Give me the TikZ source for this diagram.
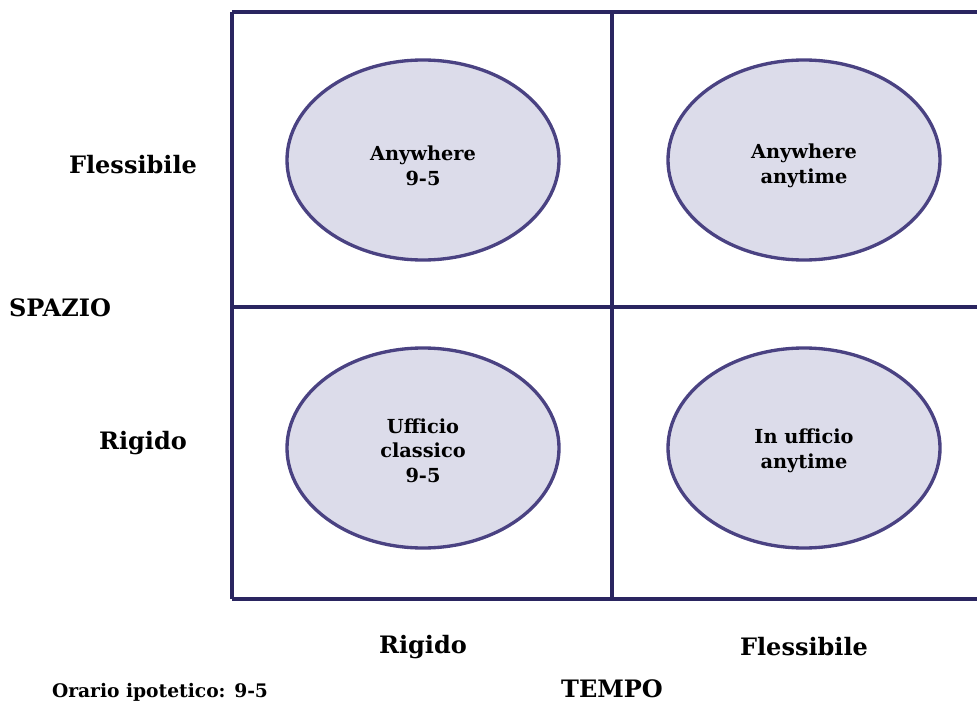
\documentclass[tikz,border=0pt]{standalone}
\usepackage{fontspec}
\setmainfont{DejaVu Serif}
\usetikzlibrary{shapes.geometric}

\definecolor{gridline}{HTML}{2A2560}
\definecolor{ovalline}{HTML}{4A4282}
\definecolor{ovalfill}{HTML}{DCDCEA}

\tikzset{
  oval/.style={ellipse, draw=ovalline, line width=2.5pt, fill=ovalfill,
    minimum width=204pt, minimum height=150pt, inner sep=0pt},
  ovaltext/.style={align=center, inner sep=0pt,
    font=\bfseries\fontsize{14.5}{18.5}\selectfont},
  axislabel/.style={font=\bfseries\fontsize{18}{20}\selectfont},
}

\begin{document}
\begin{tikzpicture}[x=0.75pt,y=-0.75pt]
\useasboundingbox (0,0) rectangle (977,702);
\clip (0,0) rectangle (977,702);

% grid
\draw[gridline, line width=2.3pt] (232,12) -- (990,12);
\draw[gridline, line width=2.3pt] (232,599) -- (990,599);
\draw[gridline, line width=2.3pt] (232,12) -- (232,599);
\draw[gridline, line width=2.3pt] (612,12) -- (612,599);
\draw[gridline, line width=2.3pt] (232,307) -- (990,307);

% quadrants
\node[oval] (anywhere95) at (423,160) {};
\node[ovaltext] at ([yshift=-4.5pt]anywhere95.center) {Anywhere\\9-5};
\node[oval] (anywhereany) at (804,160) {};
\node[ovaltext] at ([yshift=-4.5pt]anywhereany.center) {Anywhere\\anytime};
\node[oval] (ufficio95) at (423,448) {};
\node[ovaltext] at ([yshift=-2pt]ufficio95.center) {Ufficio\\classico\\9-5};
\node[oval] (ufficioany) at (804,448) {};
\node[ovaltext] at ([yshift=-2pt]ufficioany.center) {In ufficio\\anytime};

% space axis
\node[axislabel] (spflex) at (133,165) {Flessibile};
\node[axislabel] (spazio) at (60,308) {SPAZIO};
\node[axislabel] (sprig) at (143,443) {Rigido};

% time axis
\node[axislabel] (trig) at (423,647) {Rigido};
\node[axislabel] (tflex) at (804,647) {Flessibile};
\node[axislabel] (tempo) at (612,689) {TEMPO};
\node[font=\bfseries\fontsize{14}{16}\selectfont] (orario) at (160,692) {Orario ipotetico: 9-5};

\end{tikzpicture}
\end{document}
